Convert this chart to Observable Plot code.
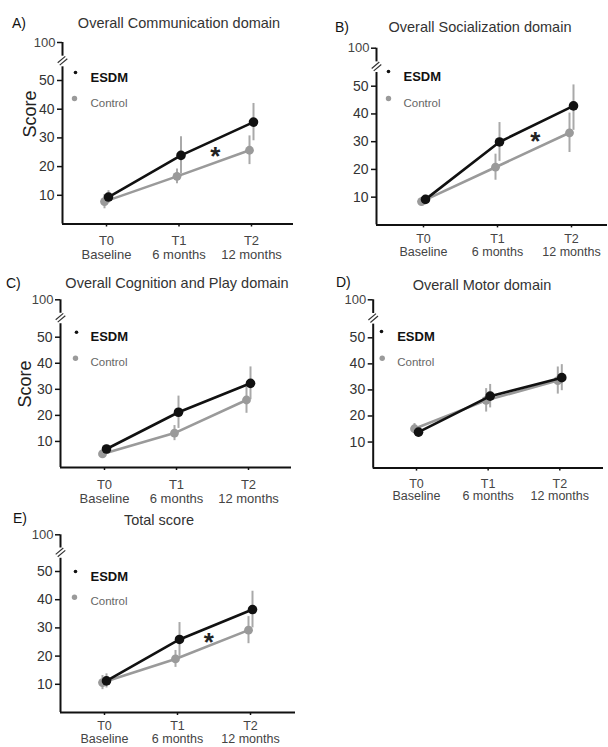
<!DOCTYPE html>
<html><head><meta charset="utf-8">
<script src="https://cdn.jsdelivr.net/npm/d3@7"></script>
<script src="https://cdn.jsdelivr.net/npm/@observablehq/plot@0.6"></script>
<style>
body{margin:0;background:#fff;}
#fig{position:relative;width:608px;height:747px;overflow:hidden;font-family:"Liberation Sans",Arial,Helvetica,sans-serif;}
#fig svg{position:absolute;}
.lbl{position:absolute;white-space:nowrap;line-height:1;}
</style></head><body><div id="fig"></div>
<script>
// ---------- data ----------
const timepoints = ["T0", "T1", "T2"];
const timeSub = ["Baseline", "6 months", "12 months"];
const groups = ["ESDM", "Control"];
const panelLetters = ["A)", "B)", "C)", "D)", "E)"];
const panelTitles = ["Overall Communication domain", "Overall Socialization domain",
  "Overall Cognition and Play domain", "Overall Motor domain", "Total score"];
const yAxisLabel = "Score";
const yTicks = [10, 20, 30, 40, 50];
const yTopTick = [100];
const yBreak = [68, 76, 82]; // axis interrupted between 68 and 82, marks at 76
const esdmMean = [[9.4, 23.9, 35.5], [9.2, 29.9, 42.9], [7.1, 21.2, 32.3], [13.8, 27.6, 34.7], [11.2, 25.9, 36.5]];
const esdmErr  = [[2.2, 6.5, 6.5], [1.5, 7.0, 8.8], [1.5, 6.2, 6.3], [2.0, 4.5, 5.0], [2.5, 6.0, 6.5]];
const ctrlMean = [[7.8, 16.6, 25.7], [8.4, 20.8, 33.2], [5.2, 13.2, 25.9], [15.1, 26.0, 33.6], [10.6, 19.0, 29.2]];
const ctrlErr  = [[2.5, 2.6, 5.0], [1.5, 4.7, 7.1], [1.5, 2.9, 5.1], [2.0, 4.5, 5.2], [2.5, 3.0, 4.8]];
// significance asterisk (between T1 and T2), null = none
const starX = [1.5, 1.51, null, null, 1.43];
const starY = [25.6, 32.2, null, null, 26.8];

// ---------- layout (page pixels) ----------
const layout = [
  {box: [0, 30, 304, 240], L: 62, R: 293, T0: 106, T2: 251, y0: 223.5, y50: 80, y100: 42, xlab: [8, 1.08, 13],
   leg: [75, 72, 74, 98, 90], score: [23, 137], letter: [12, 23], title: [179, 23]},
  {box: [304, 30, 304, 240], L: 376, R: 607, T0: 423, T2: 571, y0: 224.4, y50: 85.7, y100: 47.7, xlab: [6.6, 1.0, 12.5],
   leg: [388, 71, 388, 98, 403], score: null, letter: [335, 27], title: [480, 27]},
  {box: [0, 290, 304, 220], L: 60, R: 291, T0: 104, T2: 248, y0: 467, y50: 336.7, y100: 299.3, xlab: [8.2, 1.08, 13],
   leg: [76, 331.7, 75, 357.7, 90], score: [18, 407], letter: [6, 283], title: [177, 283]},
  {box: [304, 290, 304, 220], L: 372.7, R: 603, T0: 416, T2: 559.3, y0: 467.6, y50: 337.3, y100: 299.3, xlab: [7.8, 1.0, 12.5],
   leg: [381, 331, 381.7, 357.7, 396.7], score: null, letter: [336, 281.5], title: [482, 284.5]},
  {box: [0, 527, 304, 220], L: 60, R: 295, T0: 104, T2: 250, y0: 712, y50: 571, y100: 534.3, xlab: [6.0, 1.0, 12.5],
   leg: [75, 571, 74, 596.7, 90], score: null, letter: [13, 517.5], title: [159, 519.5]}
];

const INK = "#111";
const GREY = "#9a9a9a";
const BAR = "#a9a9a9";
const FONT = '"Liberation Sans", Arial, Helvetica, sans-serif';

const breakSymbol = {
  draw(ctx, size) {
    const k = Math.sqrt(size / Math.PI) / 5;
    ctx.moveTo(-4.8 * k, 2.0 * k); ctx.lineTo(2.8 * k, -4.4 * k);
    ctx.moveTo(-2.8 * k, 4.4 * k); ctx.lineTo(4.8 * k, -2.0 * k);
  }
};

const fig = document.getElementById("fig");

function addLabel(text, x, y, css, center) {
  const d = document.createElement("div");
  d.className = "lbl";
  d.textContent = text;
  d.style.left = x + "px";
  d.style.top = y + "px";
  d.style.transform = center ? "translate(-50%,-50%)" : "translate(0,-50%)";
  Object.assign(d.style, css);
  fig.appendChild(d);
}

panelTitles.forEach((title, p) => {
  const g = layout[p];
  const [left, top, w, h] = g.box;
  const step = (g.T2 - g.T0) / 2;
  const xDomain = [(g.L - g.T0) / step, (g.R - g.T0) / step];
  const rows = [];
  timepoints.forEach((t, i) => {
    rows.push({group: groups[0], t: i, mean: esdmMean[p][i], lo: esdmMean[p][i] - esdmErr[p][i], hi: esdmMean[p][i] + esdmErr[p][i]});
    rows.push({group: groups[1], t: i, mean: ctrlMean[p][i], lo: ctrlMean[p][i] - ctrlErr[p][i], hi: ctrlMean[p][i] + ctrlErr[p][i]});
  });
  const E = rows.filter(d => d.group === groups[0]);
  const C = rows.filter(d => d.group === groups[1]);
  const fx = g.L, fy = g.y100;
  const marks = [
    Plot.ruleY([0], {stroke: INK, strokeWidth: 2}),
    Plot.ruleX([xDomain[0]], {y1: 0, y2: yBreak[0], stroke: INK, strokeWidth: 2}),
    Plot.ruleX([xDomain[0]], {y1: yBreak[2], y2: yTopTick[0], stroke: INK, strokeWidth: 2}),
    Plot.dot([{x: xDomain[0], y: yBreak[1]}], {x: "x", y: "y", symbol: breakSymbol, r: 5, fill: "none", stroke: "#333", strokeWidth: 1.2}),
    Plot.axisY(yTicks, {tickSize: 5, tickPadding: 3, fontSize: 14, fill: "#333", stroke: INK, strokeWidth: 1.5, label: null}),
    Plot.axisY(yTopTick, {tickSize: 5, tickPadding: 2, fontSize: 13, fill: "#444", stroke: INK, strokeWidth: 1.5, label: null}),
    Plot.axisX([0, 1, 2], {tickFormat: i => timepoints[i] + "\n" + timeSub[i], tickSize: 3, tickPadding: g.xlab[0],
      fontSize: g.xlab[2], lineHeight: g.xlab[1], fill: "#444", stroke: INK, strokeWidth: 1.5, label: null}),
    Plot.ruleX(C, {x: "t", y1: "lo", y2: "hi", stroke: BAR, strokeWidth: 2, dx: -2}),
    Plot.ruleX(E, {x: "t", y1: "lo", y2: "hi", stroke: BAR, strokeWidth: 2, dx: 2}),
    Plot.line(C, {x: "t", y: "mean", stroke: GREY, strokeWidth: 2.6, dx: -2}),
    Plot.dot(C, {x: "t", y: "mean", r: 4.4, fill: GREY, dx: -2}),
    Plot.line(E, {x: "t", y: "mean", stroke: INK, strokeWidth: 2.6, dx: 2}),
    Plot.dot(E, {x: "t", y: "mean", r: 4.8, fill: INK, dx: 2}),
    // legend
    Plot.dot([0], {frameAnchor: "top-left", dx: g.leg[0] - fx, dy: g.leg[1] - fy, r: 1.8, fill: INK}),
    Plot.text([groups[0]], {text: d => d, frameAnchor: "top-left", textAnchor: "start", dx: g.leg[4] - fx, dy: g.leg[1] - fy,
      fontSize: 13, fontWeight: "bold", fill: INK}),
    Plot.dot([0], {frameAnchor: "top-left", dx: g.leg[2] - fx, dy: g.leg[3] - fy, r: 2.7, fill: GREY}),
    Plot.text([groups[1]], {text: d => d, frameAnchor: "top-left", textAnchor: "start", dx: g.leg[4] - fx, dy: g.leg[3] - fy,
      fontSize: 11.5, fill: "#666"})
  ];
  if (starX[p] != null) {
    marks.push(Plot.text([{x: starX[p], y: starY[p]}], {x: "x", y: "y", text: () => "*", fontSize: 26, fontWeight: "bold", fill: "#222", dy: 6}));
  }
  if (g.score) {
    marks.push(Plot.text([yAxisLabel], {text: d => d, frameAnchor: "top-left", rotate: -90, dx: g.score[0] - fx, dy: g.score[1] - fy,
      fontSize: 18, fill: "#222"}));
  }
  const svg = Plot.plot({
    width: w, height: h,
    marginLeft: g.L - left, marginRight: left + w - g.R,
    marginTop: g.y100 - top, marginBottom: top + h - g.y0,
    x: {type: "linear", domain: xDomain},
    y: {type: "linear", domain: [0, 50, 100], range: [g.y0 - top, g.y50 - top, g.y100 - top]},
    style: {fontFamily: FONT, background: "transparent", overflow: "visible", color: INK},
    marks
  });
  svg.style.left = left + "px";
  svg.style.top = top + "px";
  fig.appendChild(svg);
  addLabel(panelLetters[p], g.letter[0], g.letter[1], {fontSize: "14px", color: "#111"}, false);
  addLabel(title, g.title[0], g.title[1], {fontSize: "14.5px", color: "#333"}, true);
});
</script></body></html>
